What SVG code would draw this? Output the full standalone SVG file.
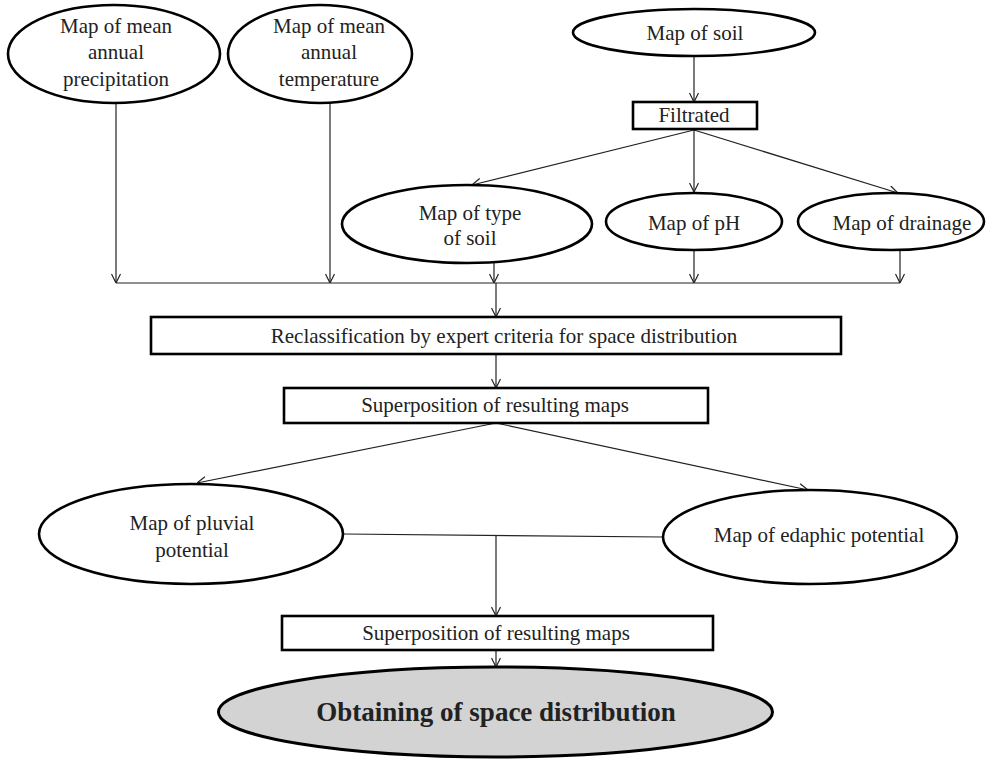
<svg xmlns="http://www.w3.org/2000/svg" width="992" height="762" viewBox="0 0 992 762">
<style>
.n{fill:#fff;stroke:#000;stroke-width:2.6}
.g{fill:#d3d3d3;stroke:#000;stroke-width:3}
.t{font-family:"Liberation Serif","Times New Roman",serif;font-size:21px;fill:#222;text-anchor:middle}
.b{font-family:"Liberation Serif","Times New Roman",serif;font-size:27px;font-weight:bold;fill:#222;text-anchor:middle}
.c{fill:none;stroke:#222;stroke-width:1.2}
</style>
<defs>
<marker id="a" viewBox="0 0 10 10" refX="10" refY="5" markerWidth="10" markerHeight="10" markerUnits="userSpaceOnUse" orient="auto">
<path d="M1,0.5 L10,5 L1,9.5" fill="none" stroke="#222" stroke-width="1.2"/>
</marker>
</defs>
<rect width="992" height="762" fill="#fff"/>
<g id="connectors">
<path class="c" d="M116,103 V283" marker-end="url(#a)"/>
<path class="c" d="M330,103 V283" marker-end="url(#a)"/>
<path class="c" d="M694,56 V102" marker-end="url(#a)"/>
<path class="c" d="M694,130 L472,185" marker-end="url(#a)"/>
<path class="c" d="M694,130 V192" marker-end="url(#a)"/>
<path class="c" d="M694,130 L898,193" marker-end="url(#a)"/>
<path class="c" d="M494,263 V283" marker-end="url(#a)"/>
<path class="c" d="M694,250 V283" marker-end="url(#a)"/>
<path class="c" d="M900,250 V283" marker-end="url(#a)"/>
<path class="c" d="M116,283 H900"/>
<path class="c" d="M496,283 V317" marker-end="url(#a)"/>
<path class="c" d="M496,354 V388" marker-end="url(#a)"/>
<path class="c" d="M496,423 L197,483" marker-end="url(#a)"/>
<path class="c" d="M496,423 L808,490" marker-end="url(#a)"/>
<path class="c" d="M343,534 L663,537"/>
<path class="c" d="M496,535.5 V616" marker-end="url(#a)"/>
<path class="c" d="M496,650 V667" marker-end="url(#a)"/>
</g>
<g id="precip">
<ellipse class="n" cx="114" cy="54" rx="106" ry="49"/>
<text class="t" x="116" y="33">Map of mean</text>
<text class="t" x="116" y="59">annual</text>
<text class="t" x="116" y="86">precipitation</text>
</g>
<g id="temp">
<ellipse class="n" cx="320" cy="54" rx="92" ry="49"/>
<text class="t" x="329" y="33">Map of mean</text>
<text class="t" x="329" y="59">annual</text>
<text class="t" x="329" y="86">temperature</text>
</g>
<g id="soil">
<ellipse class="n" cx="694" cy="32.5" rx="121" ry="23.5"/>
<text class="t" x="695" y="40">Map of soil</text>
</g>
<g id="filtrated">
<rect class="n" x="633" y="102" width="124" height="27"/>
<text class="t" x="694" y="122">Filtrated</text>
</g>
<g id="typesoil">
<ellipse class="n" cx="467" cy="224" rx="125" ry="39"/>
<text class="t" x="470" y="220">Map of type</text>
<text class="t" x="470" y="245">of soil</text>
</g>
<g id="ph">
<ellipse class="n" cx="694" cy="221.5" rx="88" ry="28.5"/>
<text class="t" x="694" y="230">Map of pH</text>
</g>
<g id="drainage">
<ellipse class="n" cx="891" cy="221.5" rx="93" ry="28.5"/>
<text class="t" x="902" y="230">Map of drainage</text>
</g>
<g id="reclass">
<rect class="n" x="151" y="317" width="690" height="37"/>
<text class="t" x="504" y="343">Reclassification by expert criteria for space distribution</text>
</g>
<g id="superpos1">
<rect class="n" x="284" y="388" width="424" height="35"/>
<text class="t" x="495" y="412">Superposition of resulting maps</text>
</g>
<g id="pluvial">
<ellipse class="n" cx="191" cy="534" rx="152" ry="50"/>
<text class="t" x="192" y="530">Map of pluvial</text>
<text class="t" x="192" y="557">potential</text>
</g>
<g id="edaphic">
<ellipse class="n" cx="810" cy="537" rx="147" ry="47"/>
<text class="t" x="819" y="542">Map of edaphic potential</text>
</g>
<g id="superpos2">
<rect class="n" x="282" y="616" width="431" height="34"/>
<text class="t" x="496" y="640">Superposition of resulting maps</text>
</g>
<g id="result">
<ellipse class="g" cx="495.5" cy="712" rx="277" ry="45"/>
<text class="b" x="496" y="721">Obtaining of space distribution</text>
</g>
</svg>
